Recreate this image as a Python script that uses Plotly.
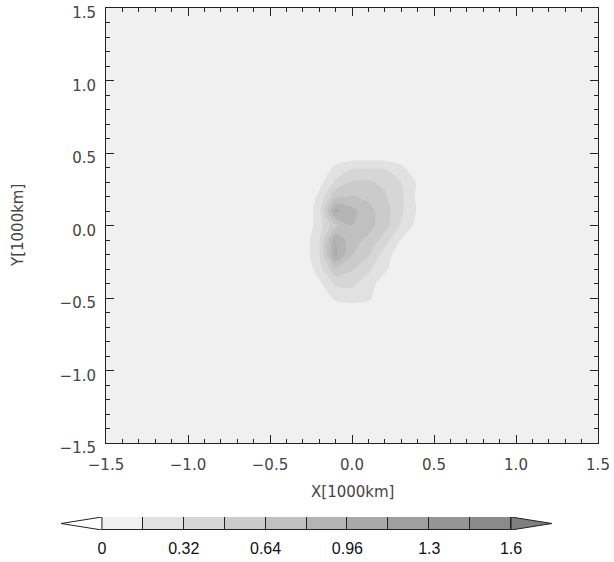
import plotly.graph_objects as go

# ---------------- data ----------------
x_nodes = [-0.4, -0.3, -0.2, -0.1, 0.0, 0.1, 0.2, 0.3, 0.4, 0.5]
y_nodes = [-0.6, -0.5, -0.4, -0.3, -0.2, -0.1, 0.0, 0.1, 0.2, 0.3, 0.4, 0.5]
z_field = [
    [0, 0, 0, 0, 0, 0, 0, 0, 0, 0],                       # y=-0.6
    [0, 0, 0, 0.20, 0.25, 0.20, 0, 0, 0, 0],              # y=-0.5
    [0, 0, 0.12, 0.35, 0.35, 0.25, 0.05, 0, 0, 0],        # y=-0.4
    [0, 0, 0.25, 0.60, 0.50, 0.35, 0.20, 0, 0, 0],        # y=-0.3
    [0, 0.05, 0.30, 1.00, 0.65, 0.50, 0.25, 0.05, 0, 0],  # y=-0.2
    [0, 0.05, 0.30, 0.95, 0.70, 0.60, 0.40, 0.15, 0, 0],  # y=-0.1
    [0, 0, 0.25, 0.60, 0.80, 0.70, 0.55, 0.30, 0.10, 0],  # y= 0.0
    [0, 0, 0.25, 1.00, 0.85, 0.70, 0.55, 0.35, 0.14, 0],  # y= 0.1
    [0, 0, 0.20, 0.60, 0.65, 0.60, 0.50, 0.35, 0.12, 0],  # y= 0.2
    [0, 0, 0.10, 0.35, 0.50, 0.50, 0.45, 0.32, 0.14, 0],  # y= 0.3
    [0, 0, 0, 0.20, 0.30, 0.30, 0.30, 0.20, 0, 0],        # y= 0.4
    [0, 0, 0, 0, 0, 0, 0, 0, 0, 0],                       # y= 0.5
]

levels = [0.0, 0.16, 0.32, 0.48, 0.64, 0.80, 0.96, 1.12, 1.28, 1.44, 1.60]
band_colors = ["#eff0ef", "#e1e1e1", "#d6d6d6", "#cbcbcb", "#c0c0c0",
               "#b4b4b4", "#a9a9a9", "#9f9f9f", "#959595", "#8a8a8a"]
under_color = "#ffffff"
over_color = "#7f7f7f"
cbar_tickvals = [0, 0.32, 0.64, 0.96, 1.28, 1.6]
cbar_ticktext = ["0", "0.32", "0.64", "0.96", "1.3", "1.6"]

# ---------------- styling ----------------
W, H = 614, 562
bg_color = "#eff0ef"
axis_font = dict(family="DejaVu Sans", size=15, color="#444444")
cbar_font = dict(family="Liberation Sans", size=16, color="#111111")

nb = len(band_colors)
zmin, zmax = levels[0], levels[-1]
step = levels[1] - levels[0]
cscale = []
for i, c in enumerate(band_colors):
    cscale.append([i / nb, c])
    cscale.append([(i + 1) / nb, c])

fig = go.Figure()

fig.add_trace(go.Contour(
    x=x_nodes, y=y_nodes, z=z_field,
    colorscale=cscale, zmin=zmin, zmax=zmax,
    contours=dict(start=zmin, end=zmax, size=step, coloring="fill", showlines=False),
    line=dict(width=0, smoothing=0.6),
    showscale=False, hoverinfo="skip",
    xaxis="x", yaxis="y",
))

# ---- custom colorbar (boxes + end triangles) ----
centers = [(levels[i] + levels[i + 1]) / 2 for i in range(nb)]
fig.add_trace(go.Bar(
    x=centers, y=[1] * nb, width=[step] * nb,
    marker=dict(color=band_colors, line=dict(color="#222222", width=1)),
    xaxis="x2", yaxis="y2", showlegend=False, hoverinfo="skip",
))
fig.add_trace(go.Scatter(
    x=[levels[0], levels[0] - step, levels[0], levels[0]],
    y=[0, 0.5, 1, 0], fill="toself", fillcolor=under_color,
    mode="lines", line=dict(color="#222222", width=1),
    xaxis="x2", yaxis="y2", showlegend=False, hoverinfo="skip",
))
fig.add_trace(go.Scatter(
    x=[levels[-1], levels[-1] + step, levels[-1], levels[-1]],
    y=[0, 0.5, 1, 0], fill="toself", fillcolor=over_color,
    mode="lines", line=dict(color="#222222", width=1),
    xaxis="x2", yaxis="y2", showlegend=False, hoverinfo="skip",
))

# plot frame in pixels
px_l, px_r, px_t, px_b = 106, 598, 8, 443
cb_l, cb_r, cb_t, cb_b = 61, 552, 517, 530

common_axis = dict(
    showline=True, linecolor="#222222", linewidth=1, mirror="allticks",
    ticks="inside", ticklen=8, tickcolor="#222222", tickwidth=1,
    showgrid=False, zeroline=False, tickfont=axis_font, automargin=False,
    ticklabeloverflow="allow",
    minor=dict(ticks="inside", ticklen=4, dtick=0.1, tickcolor="#222222", showgrid=False),
)

fig.update_layout(
    width=W, height=H, margin=dict(l=0, r=0, t=0, b=0, autoexpand=False),
    paper_bgcolor="white", plot_bgcolor="rgba(0,0,0,0)",
    showlegend=False, bargap=0,
    xaxis=dict(domain=[px_l / W, px_r / W], range=[-1.5, 1.5], tick0=-1.5, dtick=0.5,
               tickformat=".1f", ticklabelstandoff=8, **common_axis),
    yaxis=dict(domain=[1 - px_b / H, 1 - px_t / H], range=[-1.5, 1.5], tick0=-1.5, dtick=0.5,
               tickformat=".1f", ticklabelstandoff=6, ticklabelshift=5, **common_axis),
    xaxis2=dict(domain=[cb_l / W, cb_r / W], range=[levels[0] - step, levels[-1] + step],
                anchor="y2", showline=False, showgrid=False, zeroline=False, automargin=False,
                tickvals=cbar_tickvals, ticktext=cbar_ticktext, ticks="",
                tickfont=cbar_font, ticklabelstandoff=7),
    yaxis2=dict(domain=[1 - cb_b / H, 1 - cb_t / H], range=[0, 1], anchor="x2",
                visible=False, fixedrange=True, automargin=False),
    shapes=[dict(type="rect", xref="x domain", yref="y domain", x0=0, x1=1, y0=0, y1=1,
                 fillcolor=bg_color, line=dict(width=0), layer="below")],
    annotations=[
        dict(text="X[1000km]", x=352 / W, y=1 - 492 / H, xref="paper", yref="paper",
             showarrow=False, font=axis_font, xanchor="center", yanchor="middle"),
        dict(text="Y[1000km]", x=18 / W, y=1 - 226 / H, xref="paper", yref="paper",
             showarrow=False, font=axis_font, textangle=-90, xanchor="center", yanchor="middle"),
    ],
)

fig.write_html("out.html")
